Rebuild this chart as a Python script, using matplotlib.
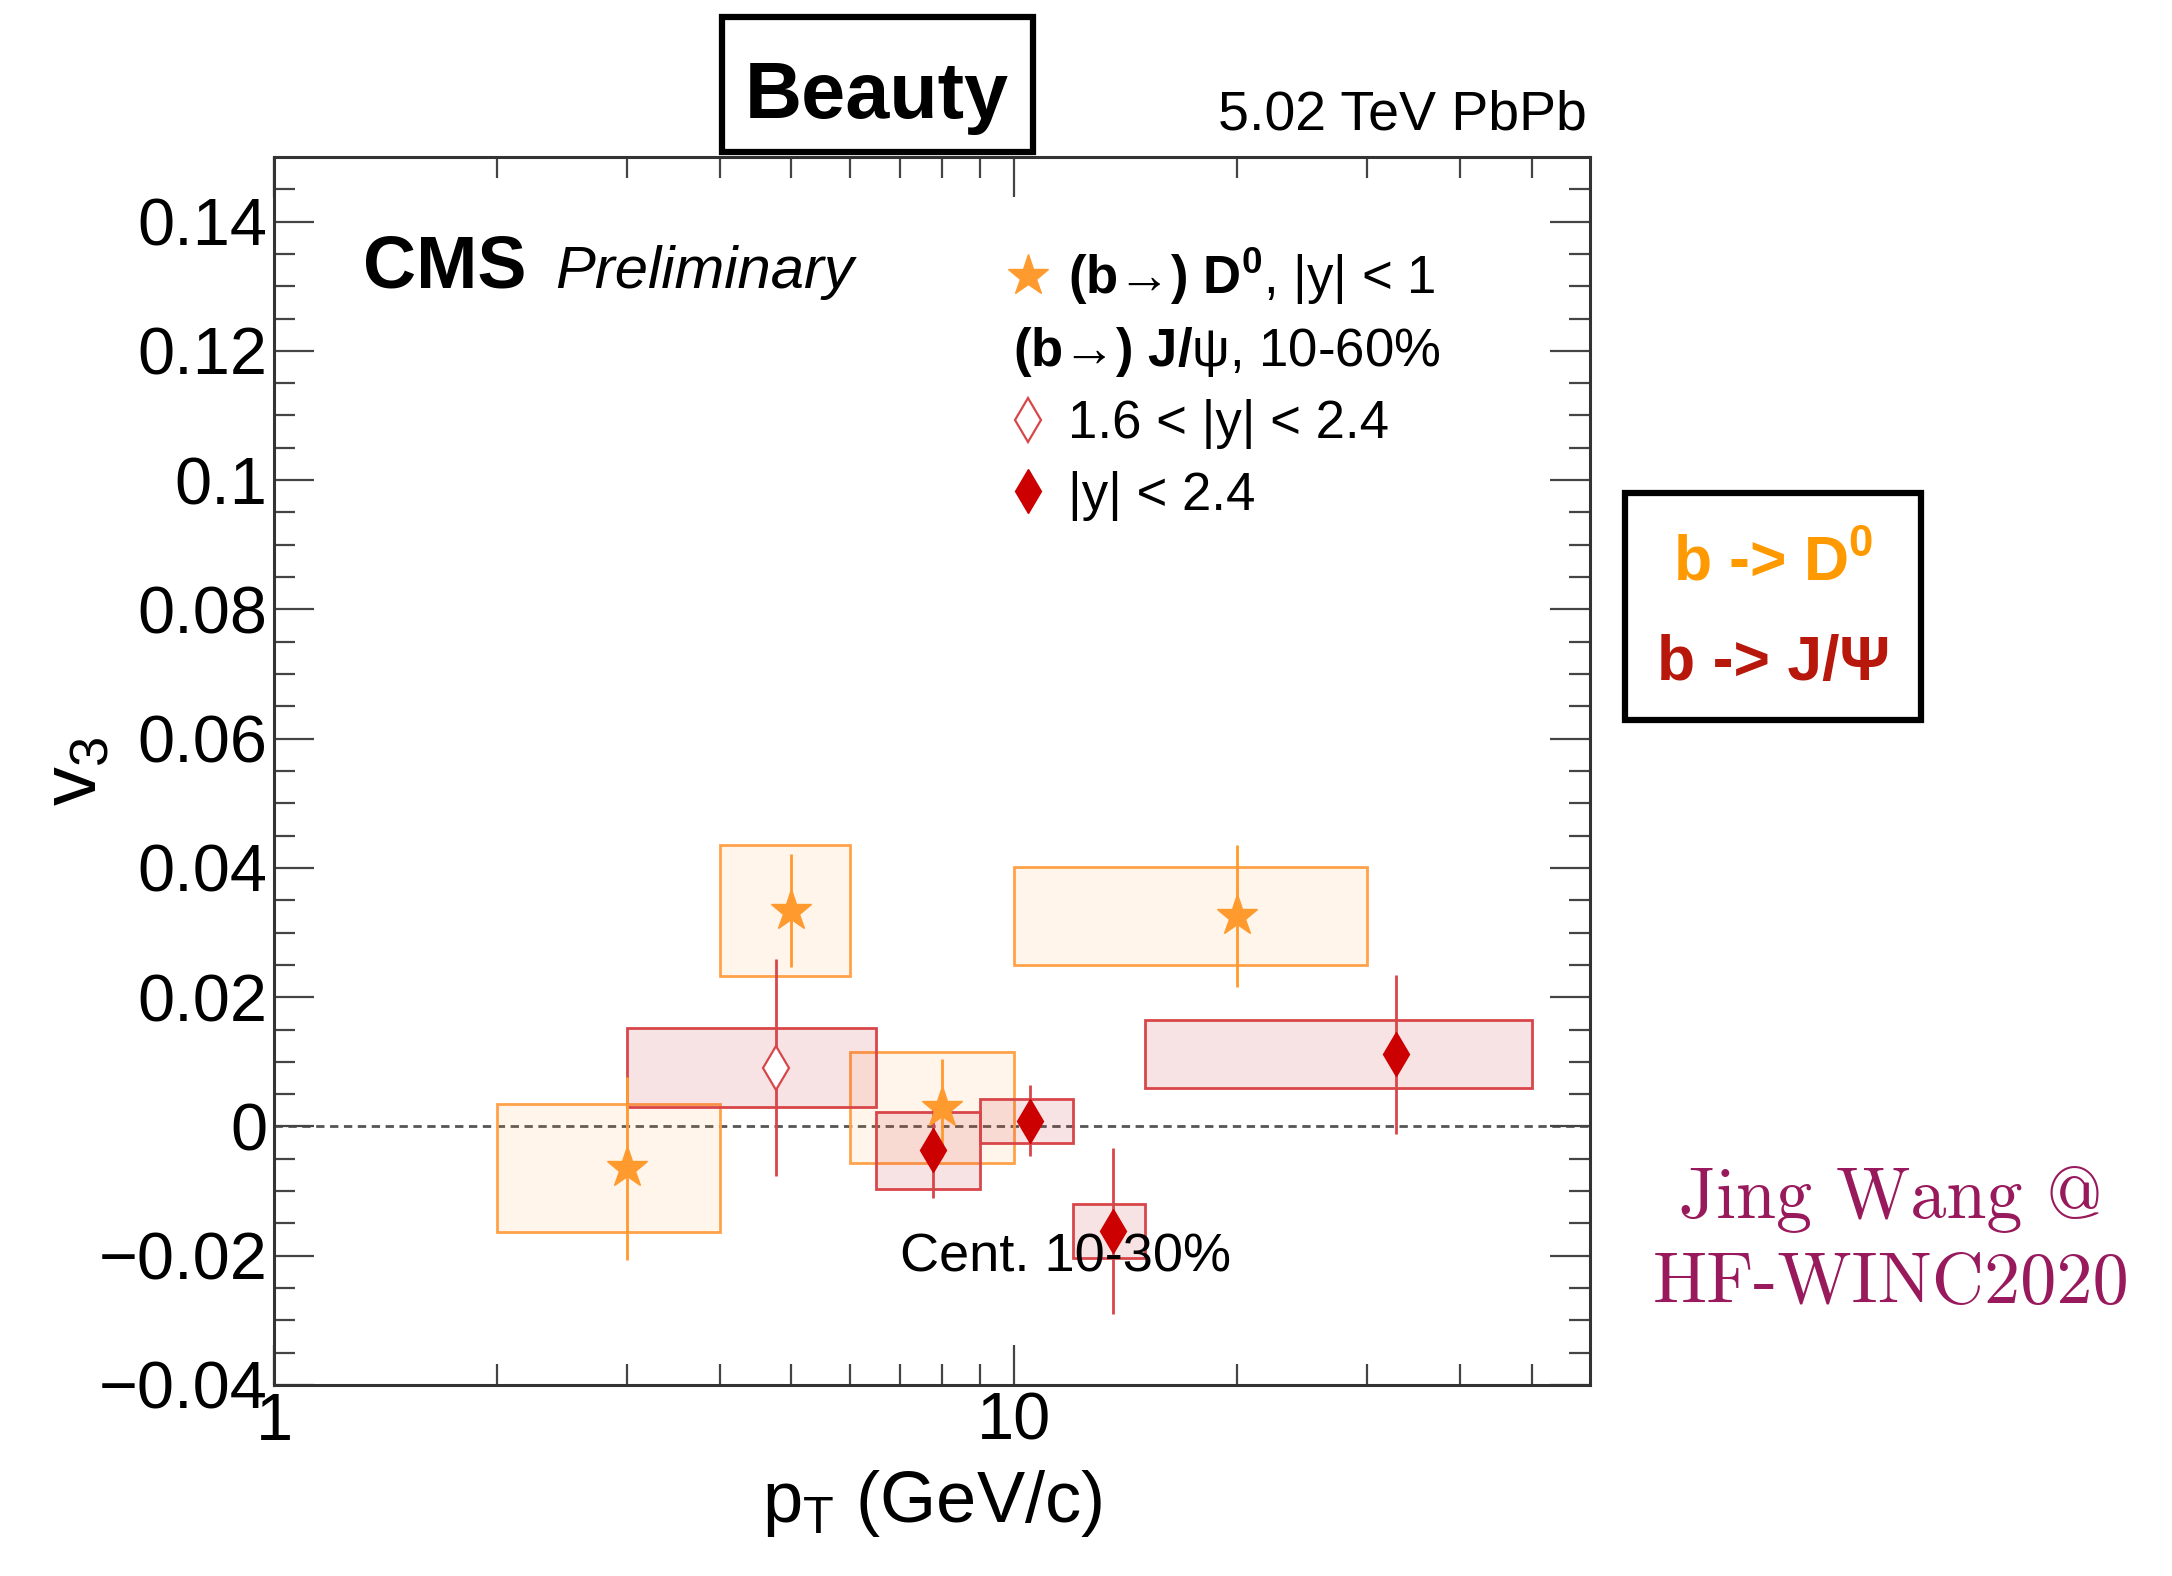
import matplotlib
matplotlib.use('Agg')
from matplotlib import pyplot as plt
from matplotlib.lines import Line2D
from matplotlib.patches import Rectangle
import numpy as np

plt.rcParams['font.family'] = ['Liberation Sans', 'DejaVu Sans']
plt.rcParams['mathtext.fontset'] = 'custom'
plt.rcParams['mathtext.rm'] = 'Liberation Sans'
plt.rcParams['mathtext.bf'] = 'Liberation Sans:bold'
plt.rcParams['mathtext.it'] = 'Liberation Sans:italic'
plt.rcParams['mathtext.sf'] = 'Liberation Sans'
plt.rcParams['mathtext.default'] = 'regular'

# (b->) D0, |y| < 1
d0_pt = [3.0, 5.0, 8.0, 20.0]
d0_pt_lo = [2.0, 4.0, 6.0, 10.0]
d0_pt_hi = [4.0, 6.0, 10.0, 30.0]
d0_v3 = [-0.0065, 0.0334, 0.0029, 0.0326]
d0_stat = [0.0141, 0.0088, 0.0076, 0.0110]
d0_syst = [0.0099, 0.0101, 0.0086, 0.0076]

# (b->) J/psi, 1.6 < |y| < 2.4
jpsi_fwd_pt = [4.77]
jpsi_fwd_pt_lo = [3.0]
jpsi_fwd_pt_hi = [6.5]
jpsi_fwd_v3 = [0.0091]
jpsi_fwd_stat = [0.0168]
jpsi_fwd_syst = [0.0061]

# (b->) J/psi, |y| < 2.4
jpsi_pt = [7.76, 10.5, 13.6, 32.8]
jpsi_pt_lo = [6.5, 9.0, 12.0, 15.0]
jpsi_pt_hi = [9.0, 12.0, 15.0, 50.0]
jpsi_v3 = [-0.0037, 0.0009, -0.0162, 0.0112]
jpsi_stat = [0.0073, 0.0055, 0.0128, 0.0123]
jpsi_syst = [0.0060, 0.0034, 0.0042, 0.0052]

y_ticks = [-0.04, -0.02, 0, 0.02, 0.04, 0.06, 0.08, 0.1, 0.12, 0.14]
y_tick_labels = ['\u22120.04', '\u22120.02', '0', '0.02', '0.04', '0.06', '0.08', '0.1', '0.12', '0.14']
x_ticks = [1, 10]
x_tick_labels = ['1', '10']
x_minor = [2, 3, 4, 5, 6, 7, 8, 9, 20, 30, 40, 50]

naranja = '#FF9A2E'
naranja_borde = '#FFA24A'
rojo = '#CC0000'
rojo_borde = '#D8464A'


# Cajas de sistematico (ancho = bin de pT)
def cajas(ax, lo, hi, v3, syst, borde, relleno):
    lo, hi = np.array(lo), np.array(hi)
    v3, syst = np.array(v3), np.array(syst)
    ax.bar(lo, 2 * syst, width=hi - lo, bottom=v3 - syst, align='edge',
           facecolor=relleno, edgecolor=borde, linewidth=2, zorder=2)


fig = plt.figure(figsize=(21.72, 15.76), dpi=100)
ax = fig.add_axes([0.1262, 0.1212, 0.6059, 0.7792])
ax.set_xscale('log')
ax.set_xlim(1, 60)
ax.set_ylim(-0.04, 0.15)

ax.axhline(0, color='#555555', lw=2, ls=(0, (3.0, 2.0)), zorder=1)

cajas(ax, d0_pt_lo, d0_pt_hi, d0_v3, d0_syst, naranja_borde, (1.0, 0.65, 0.2, 0.10))
cajas(ax, jpsi_fwd_pt_lo, jpsi_fwd_pt_hi, jpsi_fwd_v3, jpsi_fwd_syst, rojo_borde, (0.8, 0.1, 0.15, 0.12))
cajas(ax, jpsi_pt_lo, jpsi_pt_hi, jpsi_v3, jpsi_syst, rojo_borde, (0.8, 0.1, 0.15, 0.12))

ax.errorbar(d0_pt, d0_v3, yerr=d0_stat, fmt='none', ecolor=naranja, elinewidth=2, capsize=0, zorder=3)
ax.errorbar(jpsi_fwd_pt, jpsi_fwd_v3, yerr=jpsi_fwd_stat, fmt='none', ecolor=rojo_borde, elinewidth=2, capsize=0, zorder=3)
ax.errorbar(jpsi_pt, jpsi_v3, yerr=jpsi_stat, fmt='none', ecolor=rojo_borde, elinewidth=2, capsize=0, zorder=3)

ax.plot(d0_pt, d0_v3, ls='none', marker='*', ms=31, color=naranja, mec=naranja, zorder=4)
ax.plot(jpsi_fwd_pt, jpsi_fwd_v3, ls='none', marker='d', ms=22, mfc='white', mec=rojo_borde, mew=1.6, zorder=4)
ax.plot(jpsi_pt, jpsi_v3, ls='none', marker='d', ms=22, color=rojo, zorder=4)

# Ejes estilo ROOT
ax.set_yticks(y_ticks)
ax.set_yticklabels(y_tick_labels)
ax.set_yticks(np.arange(-0.035, 0.15, 0.005), minor=True)
ax.set_xticks(x_ticks)
ax.set_xticklabels(x_tick_labels)
ax.set_xticks(x_minor, minor=True)
ax.set_xticklabels([], minor=True)
ax.tick_params(which='both', direction='in', top=True, right=True, color='#444444',
               width=1.6, labelsize=48, pad=5)
ax.tick_params(which='major', length=29)
ax.tick_params(which='minor', length=15)
for s in ax.spines.values():
    s.set_linewidth(2.2)
    s.set_color('#333333')

ax.set_xlabel('p$_{T}$ (GeV/c)', fontsize=52, labelpad=10)
ax.set_ylabel('v$_{3}$', fontsize=56)
ax.yaxis.set_label_coords(-0.123, 0.5)

# Leyenda
handles = [
    Line2D([], [], ls='none', marker='*', ms=31, color=naranja),
    Line2D([], [], ls='none'),
    Line2D([], [], ls='none', marker='d', ms=22, mfc='white', mec=rojo_borde, mew=1.6),
    Line2D([], [], ls='none', marker='d', ms=22, color=rojo),
]
labels = [r'$\mathbf{(b→)\ D^{0}}$, |y| < 1', ' ', '1.6 < |y| < 2.4', '|y| < 2.4']
fig.legend(handles, labels, loc='upper left', bbox_to_anchor=(0.4636, 0.8439),
           frameon=False, fontsize=38, handlelength=0.8, handletextpad=0.36,
           labelspacing=0.40, borderpad=0, borderaxespad=0)
fig.text(0.4664, 1 - 366 / 1576, r'$\mathbf{(b→)\ J/}$ψ, 10-60%', fontsize=38, va='baseline')

fig.text(0.1671, 0.8173, 'CMS', fontsize=53, fontweight='bold', va='baseline')
fig.text(0.2555, 0.8173, 'Preliminary', fontsize=43, style='italic', va='baseline')
fig.text(0.7307, 0.918, '5.02 TeV PbPb', fontsize=40, ha='right', va='baseline')
fig.text(0.4144, 0.1932, 'Cent. 10-30%', fontsize=39, va='baseline', zorder=5)

# Recuadro "Beauty"
fig.patches.append(Rectangle((0.3324, 0.9036), 0.1432, 0.0856, transform=fig.transFigure,
                             facecolor='white', edgecolor='black', linewidth=4.5))
fig.text(0.4038, 0.9251, 'Beauty', fontsize=57, fontweight='bold', ha='center', va='baseline')

# Recuadro lateral
fig.patches.append(Rectangle((0.7482, 0.5431), 0.1363, 0.1441, transform=fig.transFigure,
                             facecolor='white', edgecolor='black', linewidth=4.5))
fig.text(0.8163, 0.632, 'b -> D$^{0}$', fontsize=45, fontweight='bold', color='#FF9900',
         ha='center', va='baseline')
fig.text(0.8163, 0.5685, 'b -> J/Ψ', fontsize=45, fontweight='bold', color='#B8170B',
         ha='center', va='baseline')

fig.text(0.8706, 0.2272, 'Jing Wang @', fontsize=52, color='#981A5C', ha='center',
         va='baseline', family=['cmr10', 'DejaVu Serif'])
fig.text(0.8706, 0.1732, 'HF-WINC2020', fontsize=52, color='#981A5C', ha='center',
         va='baseline', family=['cmr10', 'DejaVu Serif'])

fig.savefig('out.png', dpi=100)
